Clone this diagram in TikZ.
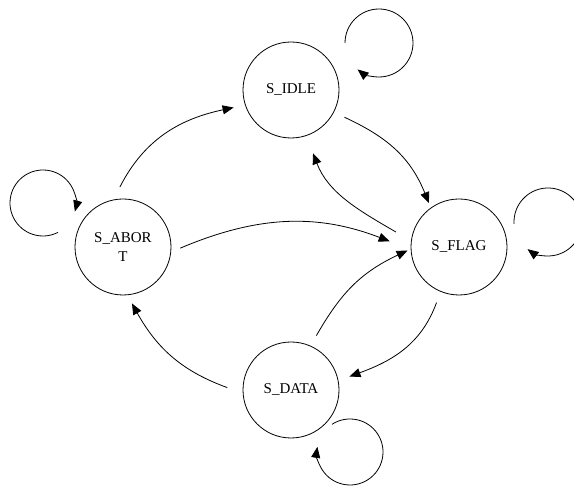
\documentclass[tikz,border=0pt]{standalone}
\usepackage{fontspec}
\setmainfont{Liberation Serif}
\usetikzlibrary{arrows.meta, calc, positioning}
\def\stsize{96pt}
\def\looprad{34}

\tikzset{
  state/.style={circle, draw, line width=0.8pt, minimum size=\stsize, inner sep=0pt,
    outer sep=12pt, align=center, font=\fontsize{15}{18.4}\selectfont},
  trans/.style={line width=0.8pt, -{Triangle[length=11pt,width=9pt]}}
}

\begin{document}
\begin{tikzpicture}[x=1pt, y=1pt]
  % page frame
  \clip (0,0) rectangle (574,486);

  % states
  \node[state] (abort) at (123,239) {S\_ABOR\\T};
  \node[state] (idle) at (291,396) {S\_IDLE};
  \node[state] (flag) at (459,239) {S\_FLAG};
  \node[state] (data) at (291,96) {S\_DATA};

  % transitions
  \draw[trans] (abort.93) to[out=63,in=192] (idle.197);
  \draw[trans, shorten >=-7pt] (idle.-27) to[out=-25,in=112] (flag.123);
  \draw[trans, shorten <=5pt, shorten >=7pt] (flag.168) to[out=150,in=-69] (idle.-71);
  \draw[trans, shorten <=-3pt, shorten >=10pt] (abort.0) to[out=23,in=159] (flag.178);
  \draw[trans, shorten >=-9pt] (data.65) to[out=60,in=205] (flag.187);
  \draw[trans] (flag.248) to[out=250,in=20] (data.13);
  \draw[trans, shorten <=4pt, shorten >=-3pt] (data.179) to[out=160,in=-61] (abort.-80);

  % self loops
  \draw[trans] ($(idle.center)+(88,47)+(180:\looprad)$) arc[start angle=180, end angle=-129, radius=\looprad];
  \draw[trans] ($(abort.center)+(-80,44)+(-63:33)$) arc[start angle=-63, end angle=-375, radius=33];
  \draw[trans] ($(flag.center)+(89,25)+(-177:\looprad)$) arc[start angle=-177, end angle=-487, radius=\looprad];
  \draw[trans] ($(data.center)+(59,-62)+(-237:33)$) arc[start angle=-237, end angle=-549, radius=33];
\end{tikzpicture}
\end{document}
